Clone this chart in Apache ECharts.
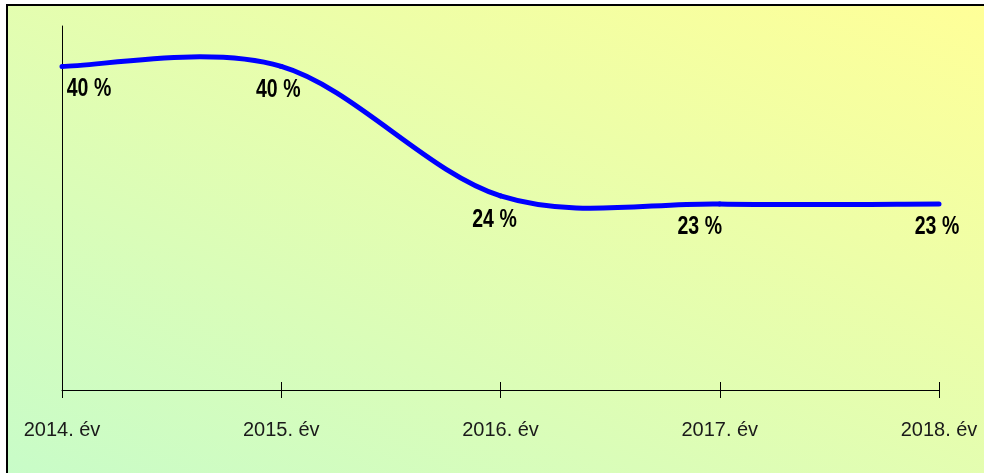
<!DOCTYPE html>
<html>
<head>
<meta charset="utf-8">
<script src="https://cdn.jsdelivr.net/npm/echarts@6/dist/echarts.min.js"></script>
<style>
html,body{margin:0;padding:0;background:#fff;}
#chart{width:984px;height:473px;}
</style>
</head>
<body>
<div id="chart"></div>
<script>
// ---- data ----
const categories = ['2014. év', '2015. év', '2016. év', '2017. év', '2018. év'];
const values = [40, 40, 24, 23, 23];
const yMin = 0;
const yMax = 45;

// ---- styles ----
const AXIS_FONT = "'Liberation Sans', Arial, sans-serif";
const labelOffsets = [[27, 23], [-3, 24], [-6, 24], [-20, 23], [-2, 23]];
const LINE_COLOR = '#0000ff';
const TENSION = 1 / 6; // Catmull-Rom style smoothing (like the spreadsheet's smoothed line)

const chart = echarts.init(document.getElementById('chart'), null, {renderer: 'canvas'});

const seriesData = values.map((v, i) => [i, v]);

function renderItem(params, api) {
  const i = params.dataIndex;
  const n = values.length;
  const P = k => api.coord([Math.max(0, Math.min(n - 1, k)), values[Math.max(0, Math.min(n - 1, k))]]);
  const children = [];
  if (i < n - 1) {
    const p0 = P(i - 1), p1 = P(i), p2 = P(i + 1), p3 = P(i + 2);
    children.push({
      type: 'bezierCurve',
      shape: {
        x1: p1[0], y1: p1[1],
        x2: p2[0], y2: p2[1],
        cpx1: p1[0] + (p2[0] - p0[0]) * TENSION,
        cpy1: p1[1] + (p2[1] - p0[1]) * TENSION,
        cpx2: p2[0] - (p3[0] - p1[0]) * TENSION,
        cpy2: p2[1] - (p3[1] - p1[1]) * TENSION
      },
      style: { stroke: LINE_COLOR, lineWidth: 5, fill: null, lineCap: 'round', lineJoin: 'round' },
      z2: 1
    });
  }
  const pt = P(i);
  const off = labelOffsets[i];
  children.push({
    type: 'text',
    x: pt[0] + off[0],
    y: pt[1] + off[1],
    scaleX: 0.78,
    z2: 5,
    style: {
      text: values[i] + ' %',
      fontFamily: AXIS_FONT,
      fontWeight: 'bold',
      fontSize: 25,
      fill: '#000',
      align: 'center',
      verticalAlign: 'middle'
    }
  });
  return { type: 'group', children: children };
}

const option = {
  animation: false,
  backgroundColor: '#ffffff',
  graphic: [{
    type: 'rect',
    z: -10,
    silent: true,
    shape: { x: 7, y: 5, width: 1100, height: 600 },
    style: {
      fill: new echarts.graphic.LinearGradient(7, 473, 372, -288, [
        { offset: 0, color: '#c8fcc8' },
        { offset: 1, color: '#ffff98' }
      ], true),
      stroke: '#000000',
      lineWidth: 2
    }
  }],
  grid: { left: 62, right: 45, top: 26, bottom: 83, containLabel: false },
  xAxis: [{
    type: 'category',
    data: categories,
    boundaryGap: false,
    position: 'bottom',
    axisLine: { show: true, lineStyle: { color: '#000', width: 1 } },
    axisTick: { show: true, inside: false, length: 8, lineStyle: { color: '#000' } },
    axisLabel: { color: '#1a1a1a', fontFamily: AXIS_FONT, fontSize: 20, margin: 30 },
    splitLine: { show: false }
  }, {
    type: 'category',
    data: categories,
    boundaryGap: false,
    position: 'bottom',
    axisLine: { show: false },
    axisTick: { show: true, inside: true, length: 8, lineStyle: { color: '#000' } },
    axisLabel: { show: false },
    splitLine: { show: false }
  }],
  yAxis: {
    type: 'value',
    min: yMin,
    max: yMax,
    axisLine: { show: true, lineStyle: { color: '#000', width: 1 } },
    axisTick: { show: false },
    axisLabel: { show: false },
    splitLine: { show: false }
  },
  series: [{
    type: 'custom',
    coordinateSystem: 'cartesian2d',
    xAxisIndex: 0,
    yAxisIndex: 0,
    data: seriesData,
    encode: { x: 0, y: 1 },
    renderItem: renderItem,
    clip: false
  }]
};
chart.setOption(option);
</script>
</body>
</html>
